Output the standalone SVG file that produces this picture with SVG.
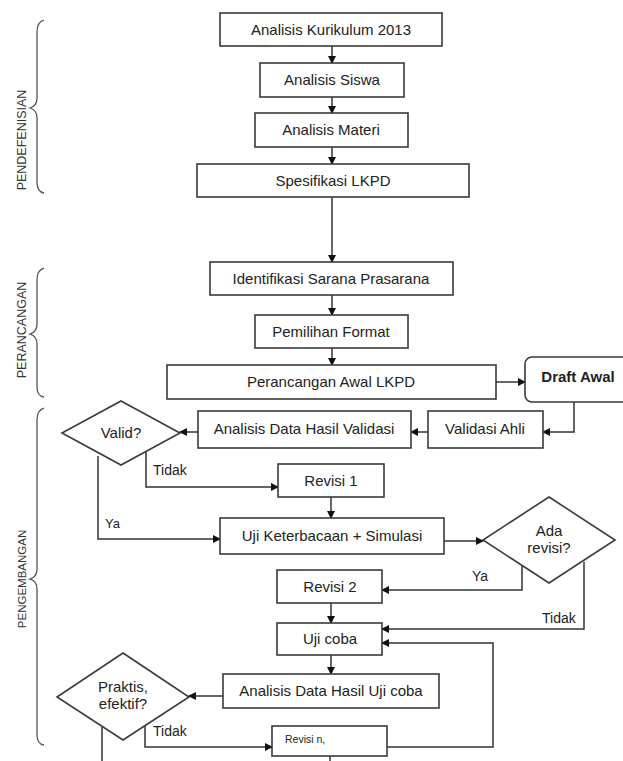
<svg xmlns="http://www.w3.org/2000/svg" width="623" height="761" viewBox="0 0 623 761">
<style>
.box{fill:#fff;stroke:#3a3a3a;stroke-width:1.6}
.t{font-family:"Liberation Sans",Arial,sans-serif;font-size:15px;fill:#222;text-anchor:middle}
.lbl{font-family:"Liberation Sans",Arial,sans-serif;font-size:14px;fill:#222}
.side{font-family:"Liberation Sans",Arial,sans-serif;font-size:12.5px;fill:#333;text-anchor:middle}
.brace{fill:none;stroke:#555;stroke-width:1.3}
.ln{fill:none;stroke:#333;stroke-width:1.5}
</style>
<defs>
<marker id="ah" markerWidth="8" markerHeight="8" refX="7" refY="4" orient="auto" markerUnits="userSpaceOnUse">
<path d="M0,0 L8,4 L0,8 Z" fill="#111"/>
</marker>
</defs>
<rect width="623" height="761" fill="#fff"/>

<g id="phases">
<path class="brace" d="M44,20 Q37,22 37,32 L37,98 Q37,106 30,108 Q37,110 37,118 L37,182 Q37,192 44,193"/>
<text class="side" transform="translate(26,140) rotate(-90)">PENDEFENISIAN</text>
<path class="brace" d="M44,268 Q37,270 37,280 L37,324 Q37,332 30,334 Q37,336 37,344 L37,387 Q37,396 44,397"/>
<text class="side" transform="translate(26,330) rotate(-90)">PERANCANGAN</text>
<path class="brace" d="M44,408 Q37,410 37,420 L37,569 Q37,577 30,579 Q37,581 37,589 L37,735 Q37,744 44,745"/>
<text class="side" style="font-size:11.5px" transform="translate(26,579) rotate(-90)">PENGEMBANGAN</text>
</g>

<g id="connectors">
<line class="ln" x1="332" y1="46" x2="332" y2="63" marker-end="url(#ah)"/>
<line class="ln" x1="332" y1="97" x2="332" y2="113" marker-end="url(#ah)"/>
<line class="ln" x1="332" y1="147" x2="332" y2="164" marker-end="url(#ah)"/>
<line class="ln" x1="332" y1="197" x2="332" y2="262" marker-end="url(#ah)"/>
<line class="ln" x1="332" y1="295" x2="332" y2="315" marker-end="url(#ah)"/>
<line class="ln" x1="332" y1="348" x2="332" y2="365" marker-end="url(#ah)"/>
<line class="ln" x1="496" y1="382" x2="525" y2="382" marker-end="url(#ah)"/>
<polyline class="ln" points="574,402 574,432 543,432" marker-end="url(#ah)"/>
<line class="ln" x1="428" y1="432" x2="411" y2="432" marker-end="url(#ah)"/>
<line class="ln" x1="198" y1="432" x2="180" y2="432" marker-end="url(#ah)"/>
<polyline class="ln" points="146,449 146,487 278,487" marker-end="url(#ah)"/>
<polyline class="ln" points="98,456 98,539 220,539" marker-end="url(#ah)"/>
<line class="ln" x1="331" y1="497" x2="331" y2="518" marker-end="url(#ah)"/>
<line class="ln" x1="444" y1="541" x2="483" y2="541" marker-end="url(#ah)"/>
<polyline class="ln" points="522,562 522,590 382,590" marker-end="url(#ah)"/>
<polyline class="ln" points="584,562 584,629 382,629" marker-end="url(#ah)"/>
<line class="ln" x1="331" y1="603" x2="331" y2="623" marker-end="url(#ah)"/>
<line class="ln" x1="331" y1="655" x2="331" y2="674" marker-end="url(#ah)"/>
<line class="ln" x1="223" y1="696" x2="189" y2="696" marker-end="url(#ah)"/>
<polyline class="ln" points="145,723 145,747 272,747" marker-end="url(#ah)"/>
<polyline class="ln" points="387,747 493,747 493,643 382,643" marker-end="url(#ah)"/>
<line class="ln" x1="102" y1="727" x2="102" y2="761"/>
<line class="ln" x1="330" y1="756" x2="330" y2="761"/>
<text class="lbl" x="153" y="475">Tidak</text>
<text class="lbl" x="105" y="528" style="font-size:13px">Ya</text>
<text class="lbl" x="472" y="581">Ya</text>
<text class="lbl" x="542" y="623">Tidak</text>
<text class="lbl" x="153" y="736">Tidak</text>
</g>

<g id="n1"><rect class="box" x="220" y="13" width="222" height="33"/><text class="t" x="331" y="35">Analisis Kurikulum 2013</text></g>
<g id="n2"><rect class="box" x="260" y="63" width="144" height="34"/><text class="t" x="332" y="85">Analisis Siswa</text></g>
<g id="n3"><rect class="box" x="255" y="113" width="153" height="34"/><text class="t" x="331" y="135">Analisis Materi</text></g>
<g id="n4"><rect class="box" x="197" y="164" width="272" height="33"/><text class="t" x="333" y="186">Spesifikasi LKPD</text></g>
<g id="n5"><rect class="box" x="210" y="262" width="243" height="33"/><text class="t" x="331" y="284">Identifikasi Sarana Prasarana</text></g>
<g id="n6"><rect class="box" x="255" y="315" width="153" height="33"/><text class="t" x="331" y="337">Pemilihan Format</text></g>
<g id="n7"><rect class="box" x="167" y="365" width="329" height="34"/><text class="t" x="331" y="387">Perancangan Awal LKPD</text></g>
<g id="n8"><rect class="box" x="525" y="357" width="110" height="45" rx="7"/><text class="t" x="578" y="382" style="font-weight:bold">Draft Awal</text></g>
<g id="n9"><rect class="box" x="428" y="411" width="115" height="37"/><text class="t" x="485" y="434">Validasi Ahli</text></g>
<g id="n10"><rect class="box" x="198" y="411" width="213" height="37"/><text class="t" x="304" y="434">Analisis Data Hasil Validasi</text></g>
<g id="n11"><polygon class="box" points="121,401 180,433 121,465 62,433"/><text class="t" x="121" y="438">Valid?</text></g>
<g id="n12"><rect class="box" x="278" y="464" width="106" height="33"/><text class="t" x="331" y="486">Revisi 1</text></g>
<g id="n13"><rect class="box" x="220" y="518" width="224" height="36"/><text class="t" x="332" y="541">Uji Keterbacaan + Simulasi</text></g>
<g id="n14"><polygon class="box" points="549,497 615,540 549,583 483,540"/><text class="t" x="549" y="536">Ada</text><text class="t" x="549" y="553">revisi?</text></g>
<g id="n15"><rect class="box" x="277" y="570" width="105" height="33"/><text class="t" x="330" y="592">Revisi 2</text></g>
<g id="n16"><rect class="box" x="277" y="623" width="105" height="32"/><text class="t" x="330" y="644">Uji coba</text></g>
<g id="n17"><rect class="box" x="223" y="674" width="216" height="34"/><text class="t" x="331" y="696">Analisis Data Hasil Uji coba</text></g>
<g id="n18"><polygon class="box" points="123,653 189,697 123,740 57,697"/><text class="t" x="123" y="692">Praktis,</text><text class="t" x="123" y="709">efektif?</text></g>
<g id="n19"><rect class="box" x="272" y="726" width="115" height="30"/><text class="t" x="285" y="743" style="font-size:10.5px;text-anchor:start">Revisi n,</text></g>
</svg>
